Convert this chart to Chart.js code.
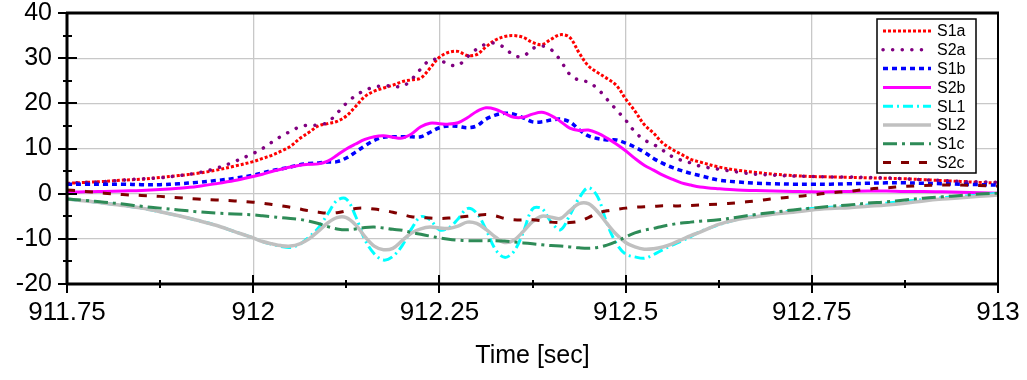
<!DOCTYPE html>
<html>
<head>
<meta charset="utf-8">
<script src="https://cdn.jsdelivr.net/npm/chart.js@4.4.1/dist/chart.umd.min.js"></script>
<style>
  html, body { margin: 0; padding: 0; background: #fff; }
</style>
</head>
<body>
<canvas id="chart" width="1027" height="380"></canvas>
<script>
// sample times [sec]
const times = [
  911.75, 911.775, 911.8, 911.825, 911.85, 911.875, 911.9, 911.925, 911.95, 911.975,
  912.0, 912.0125, 912.025, 912.0375, 912.05, 912.0625, 912.075, 912.0875, 912.1, 912.1125,
  912.125, 912.1375, 912.15, 912.1625, 912.175, 912.1875, 912.2, 912.2125, 912.225, 912.2375,
  912.25, 912.2625, 912.275, 912.2875, 912.3, 912.3125, 912.325, 912.3375, 912.35, 912.3625,
  912.375, 912.3875, 912.4, 912.4125, 912.425, 912.4375, 912.45, 912.4625, 912.475, 912.4875,
  912.5, 912.5125, 912.525, 912.5375, 912.55, 912.5625, 912.575, 912.5875, 912.6,
  912.625, 912.65, 912.675, 912.7, 912.725, 912.75, 912.775, 912.8, 912.825, 912.85, 912.875, 912.9, 912.925, 912.95, 912.975, 913
];

const s1a = [
  2.3, 2.5, 2.7, 3.0, 3.2, 3.6, 4.0, 4.5, 5.2, 6.1,
  7.1, 7.8, 8.5, 9.4, 10.5, 12.2, 13.6, 15.0, 15.5, 16.0,
  17.2, 19.3, 21.5, 22.7, 23.4, 24.0, 24.8, 25.2, 25.6, 27.8,
  30.2, 31.3, 31.5, 30.6, 30.8, 32.5, 34.0, 34.8, 35.0, 34.6,
  33.5, 33.0, 34.2, 35.2, 34.6, 31.2, 28.3, 26.8, 25.5, 24.0,
  21.0, 18.3, 15.3, 13.4, 11.2, 9.8, 8.7, 7.6, 7.0,
  5.9, 5.2, 4.7, 4.3, 4.0, 3.8, 3.7, 3.6, 3.5, 3.4, 3.3, 3.1, 2.9, 2.7, 2.5, 2.4
];
const s2a = [
  2.3, 2.5, 2.7, 3.0, 3.3, 3.5, 4.0, 4.6, 5.6, 7.1,
  8.9, 10.0, 11.4, 12.7, 13.8, 14.8, 15.2, 15.2, 15.8, 17.8,
  20.0, 21.7, 22.9, 23.6, 23.9, 23.8, 23.7, 25.3, 27.6, 29.6,
  29.6, 28.6, 28.4, 30.3, 32.0, 33.1, 33.3, 32.3, 30.6, 30.4,
  32.1, 32.7, 31.9, 29.5, 26.4, 25.1, 24.7, 23.2, 20.9, 18.6,
  16.3, 13.7, 11.9, 10.9, 9.6, 8.2, 7.4, 6.8, 6.1,
  5.4, 4.8, 4.3, 4.1, 3.9, 3.8, 3.7, 3.7, 3.6, 3.5, 3.3, 3.1, 2.9, 2.7, 2.6, 2.5
];
const s1b = [
  2.1, 2.1, 2.1, 2.1, 2.0, 2.0, 2.2, 2.5, 2.9, 3.4,
  4.1, 4.6, 5.1, 5.5, 5.9, 6.4, 6.7, 6.8, 7.0, 7.1,
  7.9, 9.2, 10.6, 11.8, 12.5, 12.6, 12.6, 12.6, 12.6, 13.6,
  14.6, 15.0, 14.9, 14.6, 15.0, 16.5, 17.4, 17.8, 17.6, 16.8,
  15.9, 15.9, 16.3, 16.5, 15.9, 14.2, 12.8, 12.2, 11.9, 11.9,
  11.2, 10.3, 9.2, 7.8, 6.7, 5.8, 5.1, 4.5, 4.0,
  3.0, 2.6, 2.3, 2.2, 2.1, 2.1, 2.1, 2.2, 2.3, 2.4, 2.4, 2.3, 2.2, 2.1, 2.0, 1.9
];
const s2b = [
  0.4, 0.4, 0.5, 0.6, 0.7, 0.9, 1.2, 1.6, 2.2, 2.9,
  3.8, 4.3, 4.9, 5.4, 5.9, 6.3, 6.5, 6.6, 7.2, 8.5,
  9.9, 11.0, 12.0, 12.6, 12.8, 12.5, 12.3, 13.2, 14.8, 15.6,
  15.5, 15.4, 15.7, 16.8, 18.2, 19.0, 18.7, 17.8, 16.9, 16.9,
  17.6, 18.0, 17.3, 16.0, 14.5, 14.0, 14.1, 13.4, 12.3, 11.0,
  9.5, 7.8, 6.3, 5.2, 4.1, 3.2, 2.4, 1.9, 1.5,
  1.1, 0.8, 0.7, 0.6, 0.5, 0.4, 0.4, 0.5, 0.6, 0.6, 0.5, 0.5, 0.4, 0.3, 0.2, 0.1
];
const sl1 = [
  -1.2, -1.6, -2.1, -2.6, -3.2, -4.0, -4.9, -5.9, -7.0, -8.4,
  -9.8, -10.6, -11.2, -11.7, -11.9, -11.2, -9.6, -7.6, -4.5, -1.5,
  -1.2, -5.0, -10.2, -13.3, -14.7, -13.9, -11.5, -7.8, -5.1, -5.8,
  -8.0, -7.6, -5.6, -3.3, -4.3, -7.9, -12.3, -14.1, -12.8, -8.6,
  -3.4, -3.3, -6.3, -8.0, -4.8, -1.0, 1.3, -0.7, -6.6, -11.0,
  -13.4, -14.0, -14.3, -13.5, -12.4, -11.4, -10.5, -9.5, -8.4,
  -6.9, -5.7, -4.9, -4.3, -3.8, -3.3, -3.0, -2.8, -2.5, -2.1, -1.7, -1.3, -0.9, -0.6, -0.3, 0.1
];
const sl2 = [
  -1.2, -1.6, -2.1, -2.6, -3.2, -4.0, -4.9, -5.9, -7.0, -8.4,
  -9.8, -10.6, -11.1, -11.5, -11.6, -11.1, -10.0, -8.3, -6.5, -5.3,
  -5.3, -6.9, -9.5, -11.6, -12.4, -12.1, -10.4, -8.7, -7.8, -7.4,
  -7.6, -7.7, -7.2, -6.3, -6.6, -7.9, -9.6, -10.8, -10.3, -8.4,
  -6.2, -5.0, -5.2, -5.5, -3.8, -2.2, -2.2, -4.0, -6.6, -9.0,
  -10.8, -11.8, -12.3, -12.2, -11.8, -11.1, -10.2, -9.3, -8.5,
  -6.8, -5.7, -5.1, -4.5, -4.1, -3.6, -3.3, -3.1, -2.8, -2.5, -2.1, -1.6, -1.2, -0.9, -0.6, -0.3
];
const s1c = [
  -1.2, -1.5, -1.9, -2.3, -2.8, -3.2, -3.6, -4.0, -4.3, -4.5,
  -4.7, -4.9, -5.1, -5.3, -5.5, -5.7, -6.1, -6.6, -7.3, -7.8,
  -8.0, -7.8, -7.5, -7.4, -7.6, -7.9, -8.1, -8.6, -9.0, -9.4,
  -9.8, -10.1, -10.3, -10.4, -10.4, -10.4, -10.4, -10.5, -10.7, -10.9,
  -11.1, -11.3, -11.5, -11.6, -11.8, -12.0, -12.1, -11.9, -11.4, -10.6,
  -9.6, -8.7, -8.1, -7.7, -7.2, -6.8, -6.5, -6.3, -6.1,
  -5.8, -5.2, -4.6, -4.1, -3.6, -3.2, -2.8, -2.5, -2.1, -1.8, -1.4, -1.0, -0.7, -0.4, -0.1, 0.1
];
const s2c = [
  0.8, 0.5, 0.1, -0.2, -0.4, -0.6, -0.9, -1.2, -1.4, -1.6,
  -1.9, -2.1, -2.4, -2.7, -3.0, -3.4, -3.8, -4.1, -4.3, -4.2,
  -3.8, -3.3, -3.2, -3.4, -3.7, -4.1, -4.6, -5.1, -5.3, -5.4,
  -5.5, -5.4, -5.2, -5.0, -4.8, -4.6, -4.9, -5.5, -5.8, -5.8,
  -5.8, -6.0, -6.3, -6.4, -6.4, -6.1, -5.3, -4.3, -3.8, -3.5,
  -3.2, -3.0, -2.9, -2.8, -2.7, -2.7, -2.7, -2.6, -2.5,
  -2.3, -2.0, -1.6, -1.1, -0.7, -0.3, 0.2, 0.5, 1.0, 1.3, 1.6, 1.8, 1.9, 1.9, 1.8, 1.7
];

const FONT = '"Liberation Sans", Arial, sans-serif';

// series styles, in legend order
const series = [
  { label: 'S1a', data: s1a, color: '#ff0000', width: 3,   dash: [3, 2] },
  { label: 'S2a', data: s2a, color: '#800080', width: 3.5, dash: [0.1, 9.5], cap: 'round' },
  { label: 'S1b', data: s1b, color: '#0000ff', width: 3.5, dash: [5, 4] },
  { label: 'S2b', data: s2b, color: '#ff00ff', width: 3,   dash: [] },
  { label: 'SL1', data: sl1, color: '#00ffff', width: 3,   dash: [10, 4, 2, 4] },
  { label: 'SL2', data: sl2, color: '#c0c0c0', width: 3.5, dash: [] },
  { label: 'S1c', data: s1c, color: '#2e8b57', width: 3,   dash: [14, 5, 3, 5] },
  { label: 'S2c', data: s2c, color: '#800000', width: 3,   dash: [8, 10] }
];

const datasets = series.map((s, i) => ({
  label: s.label,
  data: times.map((t, k) => ({ x: t, y: s.data[k] })),
  borderColor: s.color,
  borderWidth: s.width,
  borderDash: s.dash,
  borderCapStyle: s.cap || 'butt',
  pointRadius: 0,
  tension: 0.35,
  fill: false,
  order: series.length - i   // later series drawn on top
}));

// black frame with crossing major/minor ticks
const frame = {
  id: 'frame',
  afterDatasetsDraw(chart) {
    const { ctx, chartArea: a, scales: { x, y } } = chart;
    ctx.save();
    ctx.strokeStyle = '#000';
    ctx.lineCap = 'butt';
    ctx.lineWidth = 2;
    for (let v = -20; v <= 40; v += 5) {
      const py = Math.round(y.getPixelForValue(v));
      const major = v % 10 === 0;
      ctx.beginPath();
      ctx.moveTo(a.left - (major ? 9 : 4), py);
      ctx.lineTo(a.left + (major ? 10 : 5), py);
      ctx.stroke();
    }
    for (let k = 0; k <= 10; k++) {
      const px = Math.round(x.getPixelForValue(911.75 + k * 0.125));
      const major = k % 2 === 0;
      ctx.beginPath();
      ctx.moveTo(px, a.bottom - (major ? 9 : 4));
      ctx.lineTo(px, a.bottom + (major ? 9 : 4));
      ctx.stroke();
    }
    ctx.lineWidth = 3;
    ctx.beginPath();
    ctx.moveTo(a.left - 1, a.top);
    ctx.lineTo(a.right + 1, a.top);
    ctx.moveTo(a.left, a.top);
    ctx.lineTo(a.left, a.bottom);
    ctx.moveTo(a.left - 1, a.bottom);
    ctx.lineTo(a.right + 1, a.bottom);
    ctx.stroke();
    ctx.lineWidth = 2;
    ctx.beginPath();
    ctx.moveTo(a.right, a.top);
    ctx.lineTo(a.right, a.bottom);
    ctx.stroke();
    ctx.restore();
  }
};

// boxed legend in the upper right corner
const boxLegend = {
  id: 'boxLegend',
  afterDraw(chart) {
    const ctx = chart.ctx;
    const bx = 877, by = 19, bw = 99, bh = 154;
    ctx.save();
    ctx.fillStyle = '#fff';
    ctx.fillRect(bx, by, bw, bh);
    ctx.strokeStyle = '#000';
    ctx.lineWidth = 1.5;
    ctx.setLineDash([]);
    ctx.strokeRect(bx, by, bw, bh);
    ctx.font = '16px ' + FONT;
    ctx.textBaseline = 'middle';
    chart.data.datasets.forEach((ds, i) => {
      const ly = by + 12 + i * 18.8;
      ctx.strokeStyle = ds.borderColor;
      ctx.lineWidth = ds.borderWidth;
      ctx.lineCap = ds.borderCapStyle;
      ctx.setLineDash(ds.borderDash);
      ctx.beginPath();
      ctx.moveTo(bx + 6, ly);
      ctx.lineTo(bx + 54, ly);
      ctx.stroke();
      ctx.fillStyle = '#000';
      ctx.fillText(ds.label, bx + 60, ly + 1);
    });
    ctx.restore();
  }
};

// let the layout padding alone decide where the plot area sits
const noLabelOverflow = s => {
  s.paddingTop = 0; s.paddingBottom = 0; s.paddingLeft = 0; s.paddingRight = 0;
};

new Chart(document.getElementById('chart'), {
  type: 'line',
  data: { datasets },
  options: {
    responsive: false,
    animation: false,
    layout: { padding: { top: 13, right: 29, left: 0, bottom: 0 } },
    plugins: { legend: { display: false }, tooltip: { enabled: false } },
    scales: {
      x: {
        type: 'linear',
        min: 911.75,
        max: 913,
        afterFit: s => { s.height = 96; noLabelOverflow(s); },
        grid: { color: '#c8c8c8', lineWidth: 1.3, drawTicks: false },
        border: { display: false },
        ticks: {
          stepSize: 0.25,
          padding: 13,
          color: '#000',
          font: { family: FONT, size: 26 },
          maxRotation: 0,
          callback: v => String(+v.toFixed(2))
        },
        title: {
          display: true,
          text: 'Time [sec]',
          color: '#000',
          font: { family: FONT, size: 25 },
          padding: { top: 0, bottom: 9 }
        }
      },
      y: {
        min: -20,
        max: 40,
        afterFit: s => { s.width = 67; noLabelOverflow(s); },
        grid: { color: '#c8c8c8', lineWidth: 1.3, drawTicks: false },
        border: { display: false },
        ticks: {
          stepSize: 10,
          padding: 15,
          color: '#000',
          font: { family: FONT, size: 25 },
          callback: v => String(v)
        }
      }
    }
  },
  plugins: [frame, boxLegend]
});
</script>
</body>
</html>
